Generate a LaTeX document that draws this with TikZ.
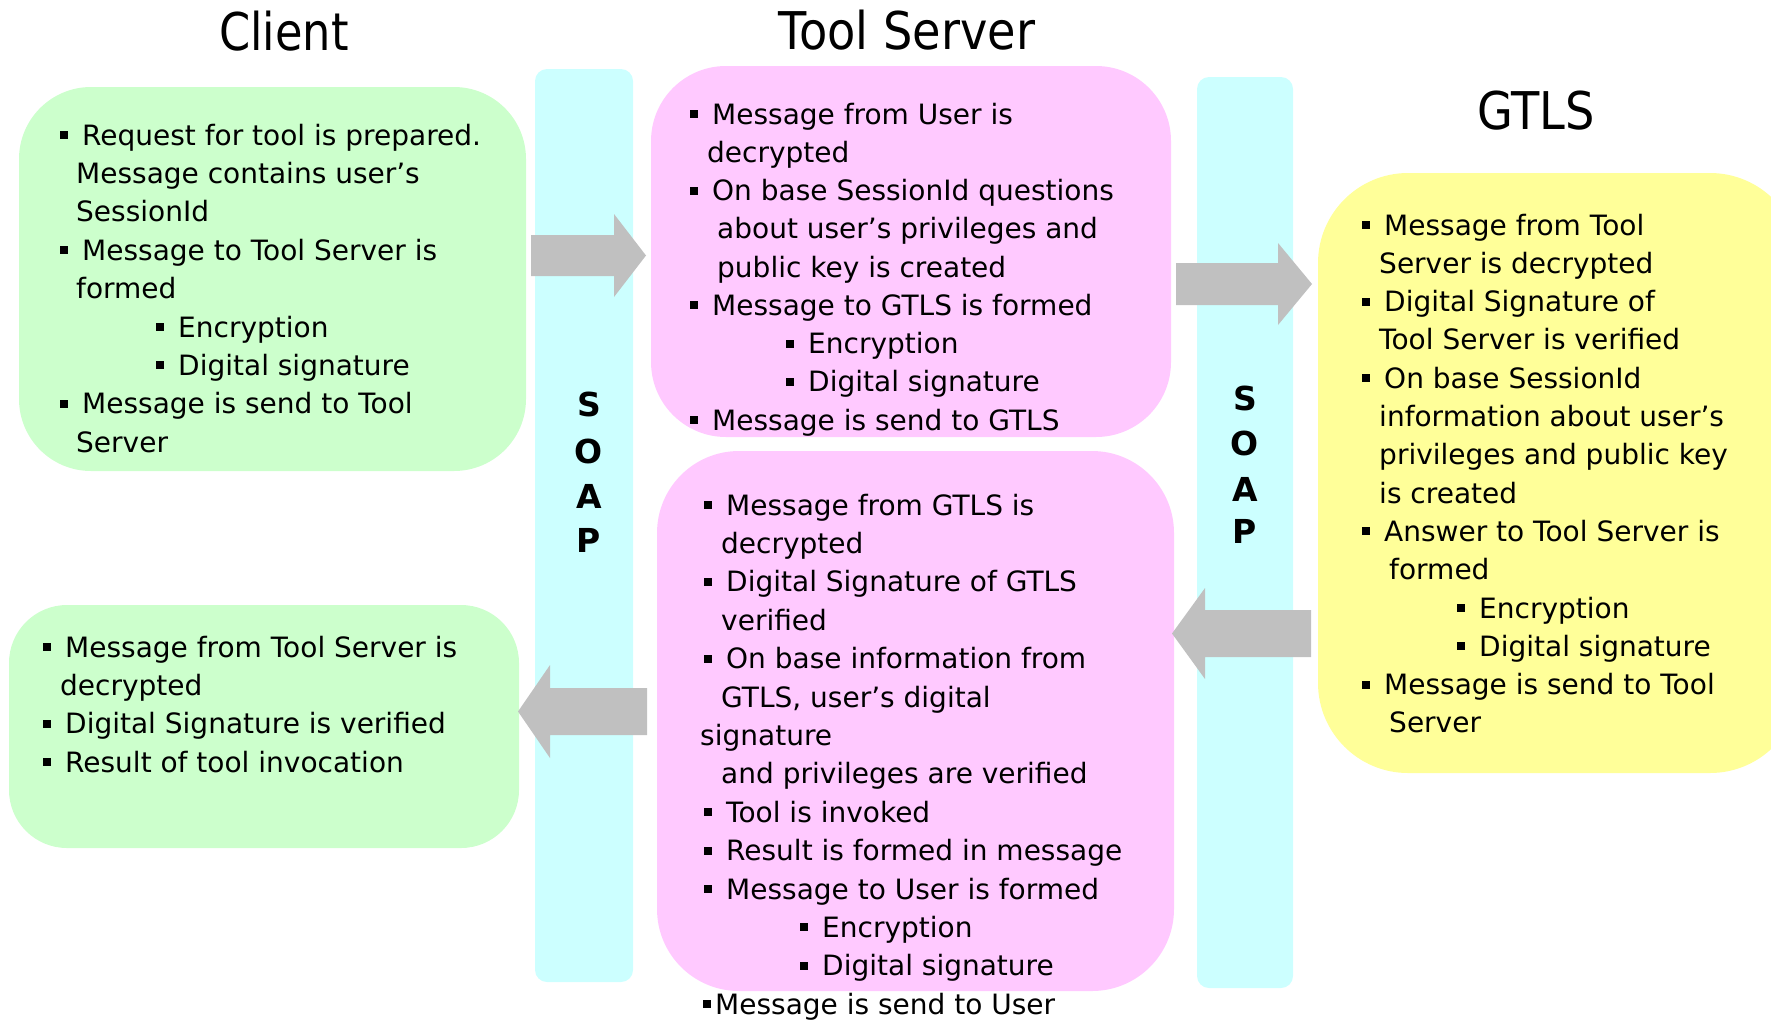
\documentclass[tikz,border=0pt]{standalone}
\usepackage{fontspec}
\setmainfont{DejaVu Sans}
\newfontfamily\titlefont{DejaVu Sans}[FakeStretch=0.86]
\newfontfamily\widetitlefont{DejaVu Sans}[FakeStretch=0.89]

\definecolor{clientgreen}{HTML}{CCFFCC}
\definecolor{serverpink}{HTML}{FFC9FF}
\definecolor{soapcyan}{HTML}{CCFFFF}
\definecolor{gtlsyellow}{HTML}{FFFF99}
\definecolor{flowgray}{HTML}{C0C0C0}

% square bullet followed by its gap
\newcommand\blt{\makebox[22pt][l]{\rule[6pt]{8pt}{8pt}}}
\newcommand\bltnarrow{\makebox[12pt][l]{\rule[6pt]{8pt}{8pt}}}
% one text line: name, x, baseline y, text
\newcommand\TL[4]{\node[linetxt] (#1) at (#2,#3) {#4};}
% block arrow pointing right: tail x, head base x, tip x, centre y, shaft half, head half
\newcommand\rightblock[6]{\fill[flowgray] (#1,#4-#5) -- (#2,#4-#5) -- (#2,#4-#6) -- (#3,#4) -- (#2,#4+#6) -- (#2,#4+#5) -- (#1,#4+#5) -- cycle;}

\tikzset{
  linetxt/.style={anchor=base west, inner sep=0pt, font=\fontsize{28}{34}\selectfont},
  title/.style={anchor=base, inner sep=0pt, font=\titlefont\fontsize{52}{60}\selectfont},
  widetitle/.style={title, font=\widetitlefont\fontsize{52}{60}\selectfont},
  soapletter/.style={anchor=base, inner sep=0pt, font=\bfseries\fontsize{33}{40}\selectfont},
}

\begin{document}
\begin{tikzpicture}[x=1pt,y=-1pt]
\useasboundingbox (0,0) rectangle (1771,1021);

% SOAP transport bars
\fill[soapcyan, rounded corners=12pt] (535,69) rectangle (633,982);
\fill[soapcyan, rounded corners=12pt] (1197,77) rectangle (1293,988);

% party boxes
\fill[clientgreen, rounded corners=72pt] (19,87) rectangle (526,471);
\fill[clientgreen, rounded corners=58pt] (9,605) rectangle (519,848);
\fill[serverpink, rounded corners=75pt] (651,66) rectangle (1171,437);
\fill[serverpink, rounded corners=82pt] (657,451) rectangle (1174,991);
\fill[gtlsyellow, rounded corners=90pt] (1318,173) rectangle (1800,773);

% message flow arrows
\rightblock{531}{614}{646}{255.5}{20.5}{41.5}
\rightblock{1176}{1278}{1312}{284}{21}{41}
\rightblock{1311}{1205}{1172}{633.5}{23.5}{45.5}
\rightblock{647}{550}{518}{711.5}{23.5}{46.5}

% titles
\node[title] (tclient) at (284,50) {Client};
\node[widetitle] (tserver) at (907,49) {Tool Server};
\node[widetitle] (tgtls) at (1536,129) {GTLS};

% SOAP labels
\node[soapletter] (s1) at (589,416) {S};
\node[soapletter] (o1) at (589,463) {O};
\node[soapletter] (a1) at (589,508) {A};
\node[soapletter] (p1) at (589,552) {P};
\node[soapletter] (s2) at (1245,410) {S};
\node[soapletter] (o2) at (1245,455) {O};
\node[soapletter] (a2) at (1245,501) {A};
\node[soapletter] (p2) at (1245,543) {P};

% client request
\TL{c1}{60}{145}{\blt Request for tool is prepared.}
\TL{c2}{76}{183.4}{Message contains user’s}
\TL{c3}{76}{221.8}{SessionId}
\TL{c4}{60}{260.2}{\blt Message to Tool Server is}
\TL{c5}{76}{298.6}{formed}
\TL{c6}{156}{337}{\blt Encryption}
\TL{c7}{156}{375.4}{\blt Digital signature}
\TL{c8}{60}{413.8}{\blt Message is send to Tool}
\TL{c9}{76}{452.2}{Server}

% client response
\TL{r1}{43}{657}{\blt Message from Tool Server is}
\TL{r2}{60}{695.4}{decrypted}
\TL{r3}{43}{733.8}{\blt Digital Signature is verified}
\TL{r4}{43}{772.2}{\blt Result of tool invocation}

% tool server, request side
\TL{t1}{690}{124}{\blt Message from User is}
\TL{t2}{707}{162.3}{decrypted}
\TL{t3}{690}{200.5}{\blt On base SessionId questions}
\TL{t4}{717}{238.8}{about user’s privileges and}
\TL{t5}{717}{277}{public key is created}
\TL{t6}{690}{315.3}{\blt Message to GTLS is formed}
\TL{t7}{786}{353.5}{\blt Encryption}
\TL{t8}{786}{391.8}{\blt Digital signature}
\TL{t9}{690}{430}{\blt Message is send to GTLS}

% tool server, response side
\TL{u1}{704}{515}{\blt Message from GTLS is}
\TL{u2}{721}{553.4}{decrypted}
\TL{u3}{704}{591.8}{\blt Digital Signature of GTLS}
\TL{u4}{721}{630.2}{verified}
\TL{u5}{704}{668.6}{\blt On base information from}
\TL{u6}{721}{707}{GTLS, user’s digital}
\TL{u7}{700}{745.4}{signature}
\TL{u8}{721}{783.8}{and privileges are verified}
\TL{u9}{704}{822.2}{\blt Tool is invoked}
\TL{u10}{704}{860.6}{\blt Result is formed in message}
\TL{u11}{704}{899}{\blt Message to User is formed}
\TL{u12}{800}{937.4}{\blt Encryption}
\TL{u13}{800}{975.8}{\blt Digital signature}
\TL{u14}{703}{1014.2}{\bltnarrow Message is send to User}

% GTLS
\TL{g1}{1362}{235}{\blt Message from Tool}
\TL{g2}{1379}{273.3}{Server is decrypted}
\TL{g3}{1362}{311.6}{\blt Digital Signature of}
\TL{g4}{1379}{349.9}{Tool Server is verified}
\TL{g5}{1362}{388.2}{\blt On base SessionId}
\TL{g6}{1379}{426.5}{information about user’s}
\TL{g7}{1379}{464.8}{privileges and public key}
\TL{g8}{1379}{503.1}{is created}
\TL{g9}{1362}{541.4}{\blt Answer to Tool Server is}
\TL{g10}{1389}{579.7}{formed}
\TL{g11}{1457}{618}{\blt Encryption}
\TL{g12}{1457}{656.3}{\blt Digital signature}
\TL{g13}{1362}{694.6}{\blt Message is send to Tool}
\TL{g14}{1389}{732.9}{Server}
\end{tikzpicture}
\end{document}
